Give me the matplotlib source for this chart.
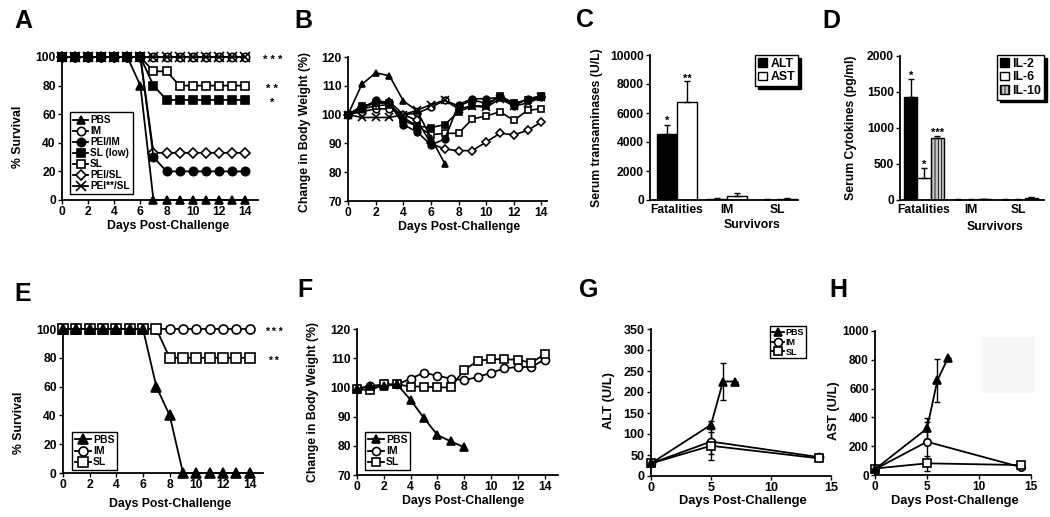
import numpy as np
import matplotlib
matplotlib.use('Agg')
import matplotlib.pyplot as plt
from matplotlib.patches import Rectangle

plt.rcParams['font.family'] = ['Liberation Sans', 'DejaVu Sans']
plt.rcParams['font.weight'] = 'bold'
plt.rcParams['axes.labelweight'] = 'bold'
plt.rcParams['hatch.linewidth'] = 0.6

W, H = 1050, 517

# ---- data ----
days = list(range(15))

# A: survival
a_groups = ['PBS', 'IM', 'PEI/IM', 'SL (low)', 'SL', 'PEI/SL', 'PEI**/SL']
a_pbs = [100, 100, 100, 100, 100, 100, 80, 0, 0, 0, 0, 0, 0, 0, 0]
a_im = [100] * 15
a_pei_im = [100, 100, 100, 100, 100, 100, 100, 30, 20, 20, 20, 20, 20, 20, 20]
a_sl_low = [100, 100, 100, 100, 100, 100, 100, 80, 70, 70, 70, 70, 70, 70, 70]
a_sl = [100, 100, 100, 100, 100, 100, 100, 90, 90, 80, 80, 80, 80, 80, 80]
a_pei_sl = [100, 100, 100, 100, 100, 100, 100, 33, 33, 33, 33, 33, 33, 33, 33]
a_pei2_sl = [100] * 15
a_stars = ['* * *', '* *', '*']
a_star_y = [100, 80, 70]

# B: body weight
b_pbs = [100, 110.5, 114.5, 113.5, 104.8, 101.3, 92, 83]
b_im = [100, 101, 102, 102, 100, 100.5, 102.5, 105, 103, 105, 104, 106, 104, 105, 106]
b_pei_im = [100, 102, 105, 104, 96.5, 94, 89.5, 91.5, 103.5, 105.5, 105.5, 106, 103, 105.5, 106.5]
b_sl_low = [100, 103, 104, 104, 98, 96, 95.5, 96.5, 101, 103, 103, 106.5, 104, 105, 106.5]
b_sl = [100, 102, 103, 103.5, 99, 96, 93, 93.5, 93.5, 98.5, 99.5, 101, 98, 101.5, 102]
b_pei_sl = [100, 102.5, 104, 104.5, 100, 98, 90, 88, 87.5, 87.5, 90.5, 93.5, 93, 94.5, 97.5]
b_pei2_sl = [100, 99, 99, 99, 100, 101.5, 103.5, 105, 102, 103, 102.5, 105.5, 103, 104, 106]

# C: transaminases
c_cats = ['Fatalities', 'IM', 'SL']
c_alt = [4550, 80, 30]
c_alt_err = [650, 40, 20]
c_ast = [6750, 250, 80]
c_ast_err = [1450, 200, 30]
c_alt_star = ['*', '', '']
c_ast_star = ['**', '', '']

# D: cytokines
d_cats = ['Fatalities', 'IM', 'SL']
d_il2 = [1430, 5, 5]
d_il2_err = [250, 3, 3]
d_il6 = [310, 5, 5]
d_il6_err = [140, 3, 3]
d_il10 = [860, 12, 28]
d_il10_err = [30, 5, 10]
d_stars = [['*', '', ''], ['*', '', ''], ['***', '', '']]

# E: survival
e_pbs = [100, 100, 100, 100, 100, 100, 100, 60, 40, 0, 0, 0, 0, 0, 0]
e_im = [100] * 15
e_sl = [100, 100, 100, 100, 100, 100, 100, 100, 80, 80, 80, 80, 80, 80, 80]
e_stars = ['* * *', '* *']
e_star_y = [100, 80]

# F: body weight
f_pbs = [99.5, 100.5, 100.5, 101, 95.7, 89.5, 83.7, 81.5, 79.5]
f_im = [99.5, 100.5, 101, 101, 103, 105, 104, 103, 102.5, 103.5, 105, 106.5, 107, 107, 109.5]
f_sl = [99.5, 99, 101, 101, 100.3, 100.3, 100, 100, 106, 109, 109.7, 109.6, 109.5, 108.4, 111.4]

# G: ALT time course
g_pbs_days = [0, 5, 6, 7]
g_pbs = [30, 122, 225, 225]
g_pbs_err = [0, 10, 45, 0]
g_vac_days = [0, 5, 14]
g_im = [30, 82, 45]
g_im_err = [0, 30, 4]
g_sl = [30, 72, 42]
g_sl_err = [0, 33, 4]

# H: AST time course
h_pbs_days = [0, 5, 6, 7]
h_pbs = [40, 323, 658, 810]
h_pbs_err = [0, 75, 150, 0]
h_vac_days = [0, 5, 14]
h_im = [40, 231, 55]
h_im_err = [0, 140, 10]
h_sl = [45, 81, 69]
h_sl_err = [0, 50, 10]

fig = plt.figure(figsize=(W / 100, H / 100), dpi=100)


def add_ax(l, t, r, b):
    return fig.add_axes([l / W, 1 - b / H, (r - l) / W, (b - t) / H])


def style(ax, rect, ylab, ylab_px, xlab=None, xlab_px=None, size=8.7, lsize=8.8):
    l, t, r, b = rect
    for s in ['top', 'right']:
        ax.spines[s].set_visible(False)
    for s in ['left', 'bottom']:
        ax.spines[s].set_linewidth(1.3)
    ax.tick_params(direction='out', length=3, width=1, labelsize=size, pad=1.5)
    ax.set_ylabel(ylab, fontsize=lsize)
    ax.yaxis.set_label_coords((ylab_px[0] - l) / (r - l), (b - ylab_px[1]) / (b - t))
    if xlab:
        ax.set_xlabel(xlab, fontsize=lsize)
        ax.xaxis.set_label_coords((xlab_px[0] - l) / (r - l), (b - xlab_px[1]) / (b - t))


def legend(ax, x, y, size, **kw):
    opts = dict(loc='upper left', bbox_to_anchor=(x / W, 1 - y / H),
                bbox_transform=fig.transFigure, borderaxespad=0, fancybox=False,
                framealpha=1, edgecolor='black', fontsize=size, labelspacing=0.1,
                borderpad=0.3, handletextpad=0.2, handlelength=1.5)
    opts.update(kw)
    lg = ax.legend(**opts)
    lg.get_frame().set_linewidth(1)
    return lg


def star(ax, x, y, s, size=8):
    ax.annotate(s, xy=(x, y), xytext=(0, -4.5), textcoords='offset points',
                ha='center', va='baseline', fontsize=size, annotation_clip=False)


# marker styles: (marker, filled, zorder)
mk = {
    'PBS': ('^', True, 3),
    'IM': ('o', False, 2),
    'PEI/IM': ('o', True, 3),
    'SL (low)': ('s', True, 3),
    'SL': ('s', False, 2),
    'PEI/SL': ('D', False, 2),
    'PEI**/SL': ('x', False, 4),
}


def line(ax, x, y, name, ms, lw=1.3):
    m, filled, z = mk[name]
    fc = 'black' if filled else 'white'
    size = ms * 0.8 if m == 'D' else ms
    if m == 'x':
        size = ms * 1.2
    ax.plot(x, y, color='black', lw=lw, marker=m, ms=size, mfc=fc, mec='black',
            mew=1.2, label=name, zorder=z, clip_on=False)


# ---- A ----
rA = (62, 57, 258, 200)
ax = add_ax(*rA)
for name, vals in zip(a_groups, [a_pbs, a_im, a_pei_im, a_sl_low, a_sl, a_pei_sl, a_pei2_sl]):
    line(ax, days, vals, name, 6)
ax.set_xlim(0, 15)
ax.set_ylim(0, 100)
ax.set_xticks(range(0, 15, 2))
ax.set_yticks(range(0, 101, 20))
style(ax, rA, '% Survival', (24, 137), 'Days Post-Challenge', (168, 220))
for s, yv in zip(a_stars, a_star_y):
    star(ax, 16.1, yv, s)
legend(ax, 70, 112, 7.2)

# ---- B ----
rB = (348, 57, 547, 201)
ax = add_ax(*rB)
for name, vals in zip(a_groups, [b_pbs, b_im, b_pei_im, b_sl_low, b_sl, b_pei_sl, b_pei2_sl]):
    line(ax, days[:len(vals)], vals, name, 4.8, lw=1.2)
ax.set_xlim(0, 14.4)
ax.set_ylim(70, 120)
ax.set_xticks(range(0, 15, 2))
ax.set_yticks(range(70, 121, 10))
style(ax, rB, 'Change in Body Weight (%)', (311, 132), 'Days Post-Challenge', (459, 221))

# ---- C ----
rC = (650, 55, 798, 200)
ax = add_ax(*rC)
xc = np.arange(len(c_cats))
bw = 0.4
ax.bar(xc - bw / 2, c_alt, bw, color='black', edgecolor='black', lw=1, label='ALT')
ax.bar(xc + bw / 2, c_ast, bw, color='white', edgecolor='black', lw=1, label='AST')
ax.errorbar(xc - bw / 2, c_alt, yerr=[np.zeros(3), c_alt_err], fmt='none', ecolor='black',
            elinewidth=1, capsize=2)
ax.errorbar(xc + bw / 2, c_ast, yerr=[np.zeros(3), c_ast_err], fmt='none', ecolor='black',
            elinewidth=1, capsize=2)
for i in range(3):
    if c_alt_star[i]:
        star(ax, xc[i] - bw / 2, c_alt[i] + c_alt_err[i] + 450, c_alt_star[i])
    if c_ast_star[i]:
        star(ax, xc[i] + bw / 2, c_ast[i] + c_ast_err[i] + 350, c_ast_star[i])
ax.set_xlim(-0.54, 2.42)
ax.set_ylim(0, 10000)
ax.set_yticks(range(0, 10001, 2000))
ax.set_xticks(xc)
ax.set_xticklabels(c_cats)
style(ax, rC, 'Serum transaminases (U/L)', (603, 128))
ax.tick_params(axis='x', length=0, pad=3)
ax.annotate('Survivors', xy=(1.5, 0), xycoords=('data', 'axes fraction'), xytext=(0, -14),
            textcoords='offset points', ha='center', va='top', fontsize=8.8)
legend(ax, 755, 55, 8.8, handlelength=0.7, handleheight=0.7, handletextpad=0.3,
       shadow={'color': 'black', 'alpha': 1}, borderpad=0.25)

# ---- D ----
rD = (900, 56, 1044, 200)
ax = add_ax(*rD)
xd = np.arange(len(d_cats))
bw = 0.28
series = [(d_il2, d_il2_err, 'IL-2', 'black', None),
          (d_il6, d_il6_err, 'IL-6', 'white', None),
          (d_il10, d_il10_err, 'IL-10', '#c8c8c8', '|||||')]
for k, (vals, err, lab, col, hat) in enumerate(series):
    pos = xd + (k - 1) * bw
    ax.bar(pos, vals, bw, color=col, edgecolor='black', lw=1, hatch=hat, label=lab)
    ax.errorbar(pos, vals, yerr=[np.zeros(3), err], fmt='none', ecolor='black',
                elinewidth=1, capsize=2)
    for i in range(3):
        if d_stars[k][i]:
            star(ax, pos[i], vals[i] + err[i] + 90, d_stars[k][i])
ax.set_xlim(-0.51, 2.55)
ax.set_ylim(0, 2000)
ax.set_yticks(range(0, 2001, 500))
ax.set_xticks(xd)
ax.set_xticklabels(d_cats)
style(ax, rD, 'Serum Cytokines (pg/ml)', (857, 128))
ax.tick_params(axis='x', length=0, pad=3)
ax.annotate('Survivors', xy=(1.5, 0), xycoords=('data', 'axes fraction'), xytext=(0, -15),
            textcoords='offset points', ha='center', va='top', fontsize=8.8)
legend(ax, 997, 55, 8.8, handlelength=0.7, handleheight=0.7, handletextpad=0.3,
       shadow={'color': 'black', 'alpha': 1}, borderpad=0.25)

# ---- E ----
rE = (63, 329, 263, 473)
ax = add_ax(*rE)
for name, vals in zip(['PBS', 'IM', 'SL'], [e_pbs, e_im, e_sl]):
    line(ax, days, vals, name, 6.5)
ax.set_xlim(0, 15)
ax.set_ylim(0, 100)
ax.set_xticks(range(0, 15, 2))
ax.set_yticks(range(0, 101, 20))
style(ax, rE, '% Survival', (25, 423), 'Days Post-Challenge', (170, 498))
for s, yv in zip(e_stars, e_star_y):
    star(ax, 15.8, yv, s, size=7.5)
legend(ax, 72, 432, 7.5)

# ---- F ----
rF = (357, 329, 558, 475)
ax = add_ax(*rF)
for name, vals in zip(['PBS', 'IM', 'SL'], [f_pbs, f_im, f_sl]):
    line(ax, days[:len(vals)], vals, name, 5.8)
ax.set_xlim(0, 15)
ax.set_ylim(70, 120)
ax.set_xticks(range(0, 15, 2))
ax.set_yticks(range(70, 121, 10))
style(ax, rF, 'Change in Body Weight (%)', (319, 402), 'Days Post-Challenge', (463, 495))
legend(ax, 365, 432, 7.5)

# ---- G ----
rG = (651, 329, 831, 476)
ax = add_ax(*rG)
for name, xs, vals, err in [('PBS', g_pbs_days, g_pbs, g_pbs_err),
                            ('IM', g_vac_days, g_im, g_im_err),
                            ('SL', g_vac_days, g_sl, g_sl_err)]:
    line(ax, xs, vals, name, 5.8)
    ax.errorbar(xs, vals, yerr=err, fmt='none', ecolor='black', elinewidth=1, capsize=2,
                zorder=1, clip_on=False)
ax.set_xlim(0, 15)
ax.set_ylim(0, 350)
ax.set_xticks([0, 5, 10, 15])
ax.set_yticks(range(0, 351, 50))
style(ax, rG, 'ALT (U/L)', (615, 401), 'Days Post-Challenge', (743, 495), size=9, lsize=9.3)
legend(ax, 770, 326, 6.5, handlelength=1.3, borderpad=0.2)

# ---- H ----
rH = (875, 331, 1031, 475)
fig.add_artist(Rectangle((982 / W, 1 - 393 / H), 53 / W, 56 / H, transform=fig.transFigure,
                         facecolor='#f7f7f7', edgecolor='none', zorder=0))
ax = add_ax(*rH)
ax.patch.set_alpha(0)
for name, xs, vals, err in [('PBS', h_pbs_days, h_pbs, h_pbs_err),
                            ('IM', h_vac_days, h_im, h_im_err),
                            ('SL', h_vac_days, h_sl, h_sl_err)]:
    line(ax, xs, vals, name, 5.3)
    ax.errorbar(xs, vals, yerr=err, fmt='none', ecolor='black', elinewidth=1, capsize=2,
                zorder=1, clip_on=False)
ax.set_xlim(0, 15)
ax.set_ylim(0, 1000)
ax.set_xticks([0, 5, 10, 15])
ax.set_yticks(range(0, 1001, 200))
style(ax, rH, 'AST (U/L)', (840, 411), 'Days Post-Challenge', (955, 495), size=8.5, lsize=9.3)

# panel letters
for letter, (x, y) in zip('ABCDEFGH', [(14, 9), (294, 9), (576, 8), (822, 9),
                                       (14, 282), (297, 278), (579, 278), (829, 278)]):
    fig.text(x / W, 1 - y / H, letter, fontsize=18, fontweight='bold', ha='left', va='top')

fig.savefig('out.png', dpi=100)
